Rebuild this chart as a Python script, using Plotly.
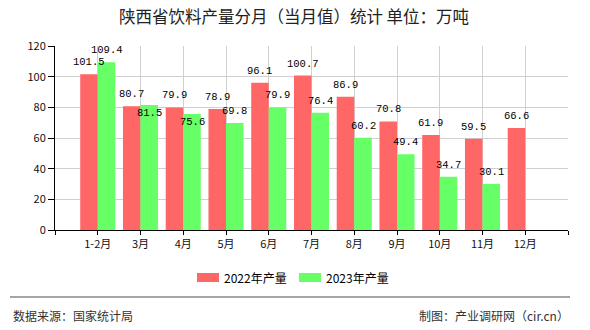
import plotly.graph_objects as go

categories = ["1-2月", "3月", "4月", "5月", "6月", "7月", "8月", "9月", "10月", "11月", "12月"]
values_2022 = [101.5, 80.7, 79.9, 78.9, 96.1, 100.7, 86.9, 70.8, 61.9, 59.5, 66.6]
values_2023 = [109.4, 81.5, 75.6, 69.8, 79.9, 76.4, 60.2, 49.4, 34.7, 30.1, None]
series_names = ["2022年产量", "2023年产量"]
y_ticks = [0, 20, 40, 60, 80, 100, 120]

W, H = 590, 330
L, R, T, B = 55, 22, 46, 100
PW, PH = W - L - R, H - T - B


def px_x(x):
    return (x - L) / PW


def px_y(y):
    return (H - B - y) / PH


RED = "#ff6666"
GREEN = "#66ff66"
CJK = "Noto Sans CJK SC"
MONO = "Liberation Mono"
BARGAP = 0.18
BAR_W = (1 - BARGAP) / 2

xs = list(range(len(categories)))

fig = go.Figure()
fig.add_trace(go.Bar(x=xs, y=values_2022, name=series_names[0],
                     marker=dict(color=RED, line=dict(width=0)), offsetgroup="a"))
fig.add_trace(go.Bar(x=xs, y=values_2023, name=series_names[1],
                     marker=dict(color=GREEN, line=dict(width=0)), offsetgroup="b"))

annotations = []
# value labels (placed above bar tops; two labels in 2023 sit just below the top, as in the source)
shift_2023 = [12] * len(values_2023)
shift_2023[1] = -8
shift_2023[2] = -8
for series, offset, shifts in ((values_2022, -BAR_W / 2, [12] * len(values_2022)),
                               (values_2023, BAR_W / 2, shift_2023)):
    for i, v in enumerate(series):
        if v is None:
            continue
        annotations.append(dict(x=i + offset, y=v, xref="x", yref="y", text=f"{v:.1f}",
                                showarrow=False, yshift=shifts[i], xanchor="center", yanchor="middle",
                                font=dict(family=MONO, size=10.5, color="#000")))

tickvals = list(range(-1, len(categories) + 1))
ticktext = [""] + categories + [""]

fig.update_layout(
    width=W, height=H,
    margin=dict(l=L, r=R, t=T, b=B),
    paper_bgcolor="white", plot_bgcolor="white",
    barmode="group", bargap=BARGAP, bargroupgap=0,
    showlegend=False,
    title=dict(text="陕西省饮料产量分月（当月值）统计 单位：万吨",
               x=294 / W, xanchor="center", y=1 - 17.5 / H, yanchor="middle",
               font=dict(family=CJK, size=16.5, color="#222")),
    xaxis=dict(range=[-1, len(categories)], tickmode="array", tickvals=tickvals, ticktext=ticktext,
               showgrid=True, gridcolor="#d0d0d0", gridwidth=1, zeroline=False,
               showline=True, linecolor="#000", linewidth=1,
               ticks="outside", ticklen=4, tickcolor="#000",
               tickfont=dict(family=CJK, size=11, color="#111")),
    yaxis=dict(range=[0, 120], tickmode="array", tickvals=y_ticks,
               showgrid=True, gridcolor="#d0d0d0", gridwidth=1, zeroline=False,
               showline=True, linecolor="#000", linewidth=1,
               ticks="outside", ticklen=6, tickcolor="#000",
               tickfont=dict(family=CJK, size=11, color="#111")),
)

shapes = []
legend_items = [(series_names[0], RED, 197), (series_names[1], GREEN, 299)]
for name, color, x0 in legend_items:
    shapes.append(dict(type="rect", xref="paper", yref="paper",
                       x0=px_x(x0), x1=px_x(x0 + 22), y0=px_y(282), y1=px_y(273),
                       fillcolor=color, line=dict(width=0)))
    annotations.append(dict(text=name, xref="paper", yref="paper", x=px_x(x0 + 25), y=px_y(277.5),
                            xanchor="left", yanchor="middle", showarrow=False,
                            font=dict(family=CJK, size=12, color="#000")))

shapes.append(dict(type="line", xref="paper", yref="paper", x0=px_x(10), x1=px_x(570),
                   y0=px_y(297), y1=px_y(297), line=dict(color="#888", width=1.5)))
annotations.append(dict(text="数据来源：国家统计局", xref="paper", yref="paper", x=px_x(11), y=px_y(315),
                        xanchor="left", yanchor="middle", showarrow=False,
                        font=dict(family=CJK, size=12, color="#333")))
annotations.append(dict(text="制图：产业调研网（cir.cn）", xref="paper", yref="paper", x=px_x(571), y=px_y(315),
                        xanchor="right", yanchor="middle", showarrow=False,
                        font=dict(family=CJK, size=12, color="#333")))

fig.update_layout(shapes=shapes, annotations=annotations)
fig.write_html("out.html")
